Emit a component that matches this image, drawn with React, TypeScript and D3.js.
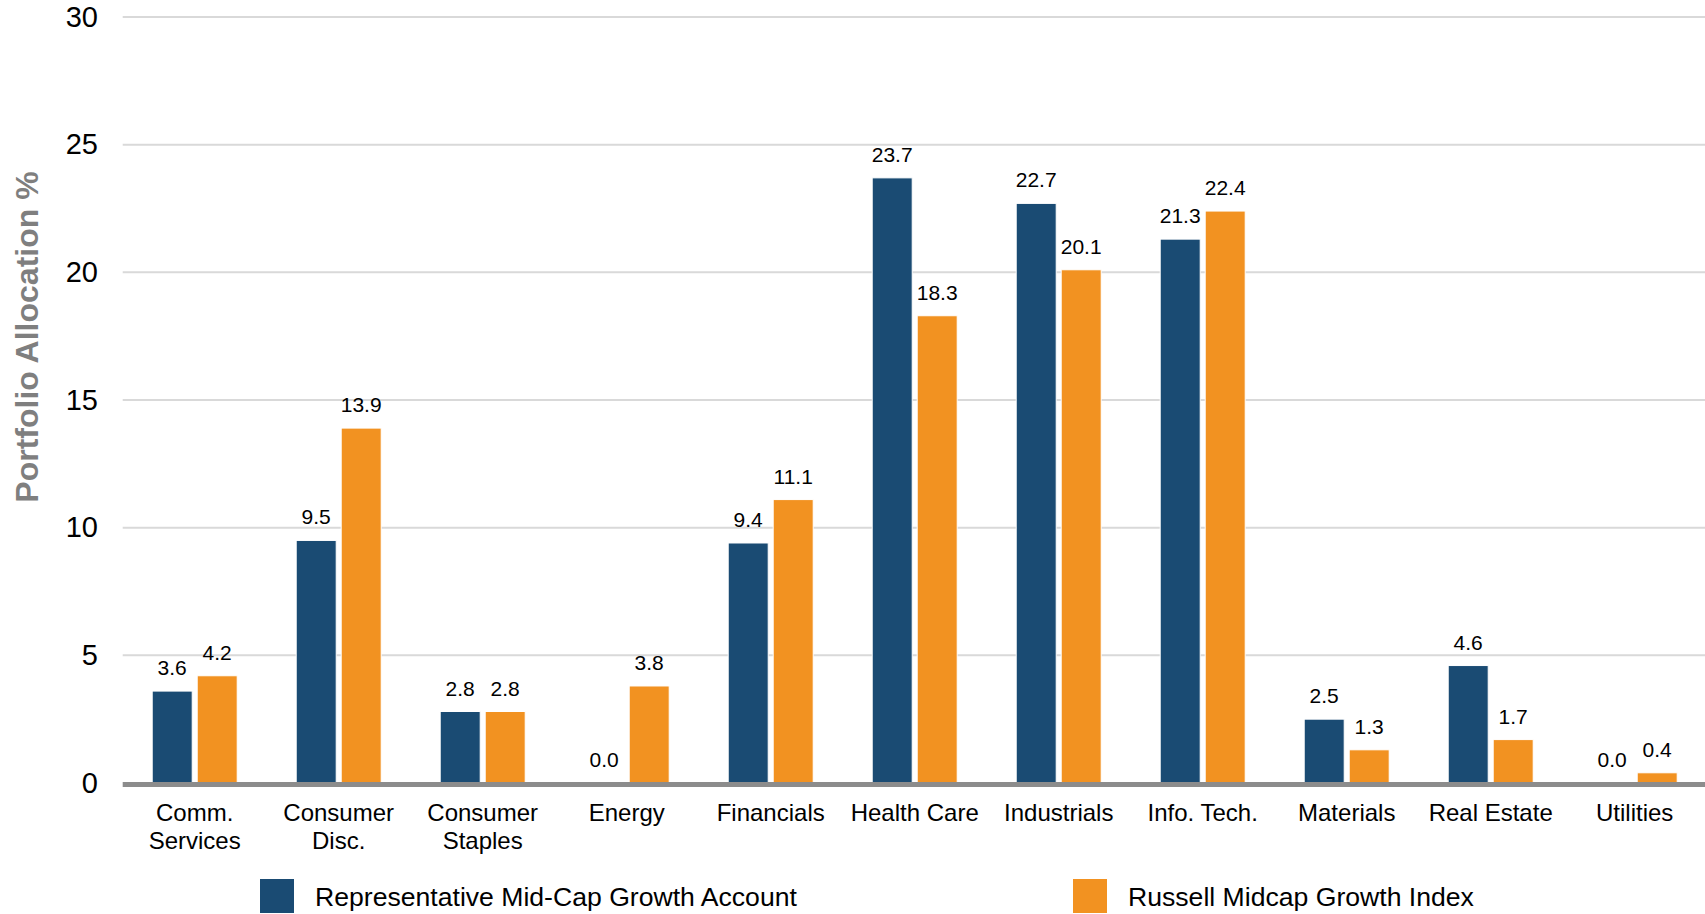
import React, { useEffect, useRef } from 'react';
import * as d3 from 'd3';

const categories = [
  ['Comm.', 'Services'],
  ['Consumer', 'Disc.'],
  ['Consumer', 'Staples'],
  ['Energy'],
  ['Financials'],
  ['Health Care'],
  ['Industrials'],
  ['Info. Tech.'],
  ['Materials'],
  ['Real Estate'],
  ['Utilities'],
];
const seriesNames = ['Representative Mid-Cap Growth Account', 'Russell Midcap Growth Index'];
const accountValues = [3.6, 9.5, 2.8, 0.0, 9.4, 23.7, 22.7, 21.3, 2.5, 4.6, 0.0];
const indexValues = [4.2, 13.9, 2.8, 3.8, 11.1, 18.3, 20.1, 22.4, 1.3, 1.7, 0.4];
const yTicks = [0, 5, 10, 15, 20, 25, 30];
const colors = ['#1a4b73', '#f29221'];

const W = 1705;
const H = 914;
const FONT = '"Liberation Sans", Arial, Helvetica, sans-serif';

export default function App() {
  const svgRef = useRef<SVGSVGElement>(null);

  useEffect(() => {
    if (!svgRef.current) return;
    const svg = d3.select(svgRef.current);
    svg.selectAll('*').remove();

    const left = 122.7;
    const top = 17;
    const bottom = 783;
    const keys = categories.map((c) => c.join(' '));

    const x = d3.scaleBand().domain(keys).range([left, left + 144 * keys.length]).padding(0);
    const inner = d3
      .scaleBand()
      .domain(seriesNames)
      .range([x.bandwidth() / 2 - 42.5, x.bandwidth() / 2 + 42.5])
      .paddingInner(0.111);
    const y = d3.scaleLinear().domain([0, 30]).range([bottom, top]);

    // gridlines
    svg
      .append('g')
      .selectAll('line')
      .data(yTicks.filter((t) => t > 0))
      .enter()
      .append('line')
      .attr('x1', left)
      .attr('x2', W)
      .attr('y1', (d) => y(d))
      .attr('y2', (d) => y(d))
      .attr('stroke', '#d9d9d9')
      .attr('stroke-width', 2);

    // tick labels
    svg
      .append('g')
      .selectAll('text')
      .data(yTicks)
      .enter()
      .append('text')
      .attr('x', 98)
      .attr('y', (d) => y(d))
      .attr('dy', '0.33em')
      .attr('text-anchor', 'end')
      .style('font-family', FONT)
      .style('font-size', '29px')
      .attr('fill', '#000')
      .text((d) => d);

    // axis title
    svg
      .append('text')
      .attr('transform', `translate(38,337) rotate(-90)`)
      .attr('text-anchor', 'middle')
      .style('font-family', FONT)
      .style('font-size', '32px')
      .style('font-weight', 'bold')
      .attr('fill', '#7f7f7f')
      .text('Portfolio Allocation %');

    const data = [accountValues, indexValues];

    // bars
    const groups = svg
      .append('g')
      .selectAll('g')
      .data(keys)
      .enter()
      .append('g')
      .attr('transform', (d) => `translate(${x(d)},0)`);

    seriesNames.forEach((s, si) => {
      groups
        .filter((_, i) => data[si][i] > 0)
        .append('rect')
        .attr('x', inner(s)!)
        .attr('width', inner.bandwidth())
        .attr('y', (_, i, nodes) => {
          const k = keys.indexOf(d3.select(nodes[i].parentNode as any).datum() as string);
          return y(data[si][k]);
        })
        .attr('height', (_, i, nodes) => {
          const k = keys.indexOf(d3.select(nodes[i].parentNode as any).datum() as string);
          return bottom - y(data[si][k]);
        })
        .attr('fill', colors[si])
        .attr('stroke', '#ffffff')
        .attr('stroke-width', 1);

      groups
        .append('text')
        .attr('x', inner(s)! + inner.bandwidth() / 2)
        .attr('y', (_, i) => y(data[si][i]) - 16)
        .attr('text-anchor', 'middle')
        .style('font-family', FONT)
        .style('font-size', '21px')
        .attr('fill', '#000')
        .text((_, i) => data[si][i].toFixed(1));
    });

    // baseline
    svg
      .append('line')
      .attr('x1', left)
      .attr('x2', W)
      .attr('y1', bottom + 1.5)
      .attr('y2', bottom + 1.5)
      .attr('stroke', '#8c8c8c')
      .attr('stroke-width', 5);

    // category labels
    const labels = svg
      .append('g')
      .selectAll('text')
      .data(categories)
      .enter()
      .append('text')
      .attr('text-anchor', 'middle')
      .style('font-family', FONT)
      .style('font-size', '24px')
      .attr('fill', '#000')
      .attr('transform', (d) => `translate(${x(d.join(' '))! + x.bandwidth() / 2},0)`);
    labels
      .selectAll('tspan')
      .data((d) => d)
      .enter()
      .append('tspan')
      .attr('x', 0)
      .attr('y', (_, i) => 820.5 + i * 28)
      .text((d) => d);

    // legend
    const legendX = [260, 1073];
    seriesNames.forEach((s, si) => {
      svg
        .append('rect')
        .attr('x', legendX[si])
        .attr('y', 879)
        .attr('width', 34)
        .attr('height', 34)
        .attr('fill', colors[si]);
      svg
        .append('text')
        .attr('x', legendX[si] + 55)
        .attr('y', 897)
        .attr('dy', '0.35em')
        .style('font-family', FONT)
        .style('font-size', '26.6px')
        .attr('fill', '#000')
        .text(s);
    });
  }, []);

  return (
    <svg
      ref={svgRef}
      width={W}
      height={H}
      style={{ position: 'absolute', left: 0, top: 0, background: '#fff' }}
    />
  );
}
